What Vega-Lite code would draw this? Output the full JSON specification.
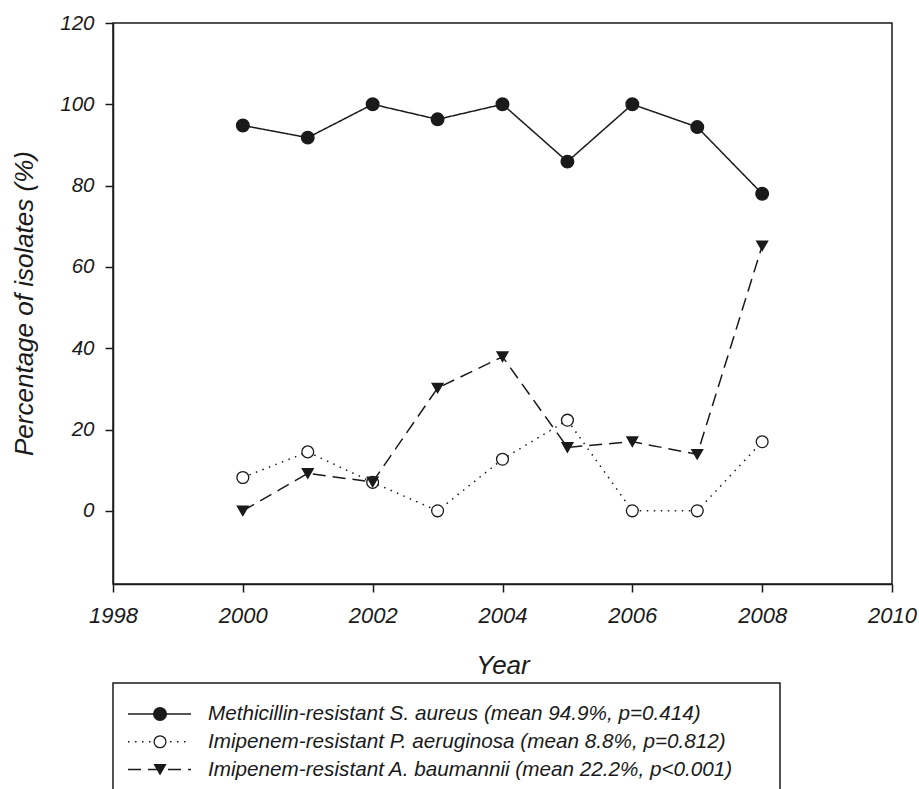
{
  "$schema": "https://vega.github.io/schema/vega-lite/v6.json",
  "padding": {"left": 10, "top": 12, "right": 0, "bottom": 0},
  "bounds": "flush",
  "spacing": 99,
  "background": "white",
  "config": {
    "font": "Liberation Sans",
    "view": {"stroke": "#1a1a1a", "strokeWidth": 1.5},
    "axis": {
      "domainColor": "#1a1a1a", "domainWidth": 1.5,
      "tickColor": "#1a1a1a", "tickWidth": 1.5, "tickSize": 8,
      "labelFont": "Liberation Sans", "labelFontStyle": "italic", "labelColor": "#1a1a1a",
      "titleFont": "Liberation Sans", "titleFontStyle": "italic", "titleFontWeight": "normal", "titleColor": "#1a1a1a",
      "grid": false, "labelFlush": false, "labelOverlap": false
    }
  },
  "datasets": {
    "rates": [
      {"year": 2000, "series": "MRSA", "value": 94.8},
      {"year": 2001, "series": "MRSA", "value": 91.8},
      {"year": 2002, "series": "MRSA", "value": 100},
      {"year": 2003, "series": "MRSA", "value": 96.3},
      {"year": 2004, "series": "MRSA", "value": 100},
      {"year": 2005, "series": "MRSA", "value": 85.9},
      {"year": 2006, "series": "MRSA", "value": 100},
      {"year": 2007, "series": "MRSA", "value": 94.4},
      {"year": 2008, "series": "MRSA", "value": 78.0},
      {"year": 2000, "series": "PA", "value": 8.2},
      {"year": 2001, "series": "PA", "value": 14.5},
      {"year": 2002, "series": "PA", "value": 7.0},
      {"year": 2003, "series": "PA", "value": 0},
      {"year": 2004, "series": "PA", "value": 12.7},
      {"year": 2005, "series": "PA", "value": 22.3},
      {"year": 2006, "series": "PA", "value": 0},
      {"year": 2007, "series": "PA", "value": 0},
      {"year": 2008, "series": "PA", "value": 17.0},
      {"year": 2000, "series": "AB", "value": 0},
      {"year": 2001, "series": "AB", "value": 9.2},
      {"year": 2002, "series": "AB", "value": 7.1},
      {"year": 2003, "series": "AB", "value": 30.2},
      {"year": 2004, "series": "AB", "value": 37.9},
      {"year": 2005, "series": "AB", "value": 15.6},
      {"year": 2006, "series": "AB", "value": 17.0},
      {"year": 2007, "series": "AB", "value": 13.9},
      {"year": 2008, "series": "AB", "value": 65.2}
    ],
    "legendItems": [
      {"series": "MRSA", "label": "Methicillin-resistant S. aureus (mean 94.9%, p=0.414)"},
      {"series": "PA", "label": "Imipenem-resistant P. aeruginosa (mean 8.8%, p=0.812)"},
      {"series": "AB", "label": "Imipenem-resistant A. baumannii (mean 22.2%, p<0.001)"}
    ]
  },
  "vconcat": [
    {
      "width": 779,
      "height": 561,
      "data": {"name": "rates"},
      "encoding": {
        "x": {
          "field": "year", "type": "quantitative",
          "scale": {"domain": [1998, 2010], "nice": false, "zero": false},
          "axis": {
            "values": [1998, 2000, 2002, 2004, 2006, 2008, 2010], "format": "d",
            "labelFontSize": 22, "labelPadding": 13,
            "title": "Year", "titleFontSize": 26, "titleBaseline": "alphabetic", "titleY": 89
          }
        },
        "y": {
          "field": "value", "type": "quantitative",
          "scale": {"domain": [-18, 120], "nice": false, "zero": false},
          "axis": {
            "values": [0, 20, 40, 60, 80, 100, 120],
            "labelFontSize": 20.5, "labelPadding": 11,
            "title": "Percentage of isolates (%)", "titleFontSize": 26,
            "titleAngle": -90, "titleBaseline": "middle", "titleAlign": "center",
            "titleX": -89, "titleY": 280
          }
        }
      },
      "layer": [
        {
          "mark": {"type": "line", "color": "#1a1a1a", "strokeWidth": 1.5},
          "encoding": {
            "strokeDash": {
              "field": "series", "type": "nominal",
              "scale": {"domain": ["MRSA", "PA", "AB"], "range": [[1, 0], [1.5, 5.5], [13, 7]]},
              "legend": null
            }
          }
        },
        {
          "mark": {"type": "point", "filled": true, "stroke": "#1a1a1a", "strokeWidth": 1.3, "opacity": 1},
          "encoding": {
            "shape": {"field": "series", "type": "nominal", "scale": {"domain": ["MRSA", "PA", "AB"], "range": ["circle", "circle", "triangle-down"]}, "legend": null},
            "fill": {"field": "series", "type": "nominal", "scale": {"domain": ["MRSA", "PA", "AB"], "range": ["#1a1a1a", "white", "#1a1a1a"]}, "legend": null},
            "size": {"field": "series", "type": "nominal", "scale": {"domain": ["MRSA", "PA", "AB"], "range": [160, 120, 190]}, "legend": null}
          }
        }
      ]
    },
    {
      "width": 667,
      "height": 110,
      "data": {"name": "legendItems"},
      "encoding": {
        "y": {"field": "series", "type": "nominal", "scale": {"type": "point", "domain": ["MRSA", "PA", "AB"], "range": [31, 86.5], "padding": 0}, "axis": null}
      },
      "layer": [
        {
          "mark": {"type": "rule", "color": "#1a1a1a", "strokeWidth": 1.5},
          "encoding": {
            "x": {"datum": 2.25, "type": "quantitative", "scale": {"domain": [0, 100], "nice": false, "zero": false}, "axis": null},
            "x2": {"datum": 11.7},
            "strokeDash": {
              "field": "series", "type": "nominal",
              "scale": {"domain": ["MRSA", "PA", "AB"], "range": [[1, 0], [1.5, 3.5], [13, 7]]},
              "legend": null
            }
          }
        },
        {
          "mark": {"type": "point", "filled": true, "stroke": "#1a1a1a", "strokeWidth": 1.3, "opacity": 1},
          "encoding": {
            "x": {"datum": 7.05, "type": "quantitative"},
            "shape": {"field": "series", "type": "nominal", "scale": {"domain": ["MRSA", "PA", "AB"], "range": ["circle", "circle", "triangle-down"]}, "legend": null},
            "fill": {"field": "series", "type": "nominal", "scale": {"domain": ["MRSA", "PA", "AB"], "range": ["#1a1a1a", "white", "#1a1a1a"]}, "legend": null},
            "size": {"field": "series", "type": "nominal", "scale": {"domain": ["MRSA", "PA", "AB"], "range": [160, 120, 190]}, "legend": null}
          }
        },
        {
          "mark": {"type": "text", "align": "left", "baseline": "middle", "fontSize": 20.7, "fontStyle": "italic", "font": "Liberation Sans", "color": "#1a1a1a"},
          "encoding": {
            "x": {"datum": 14.24, "type": "quantitative"},
            "text": {"field": "label", "type": "nominal"}
          }
        }
      ]
    }
  ]
}
